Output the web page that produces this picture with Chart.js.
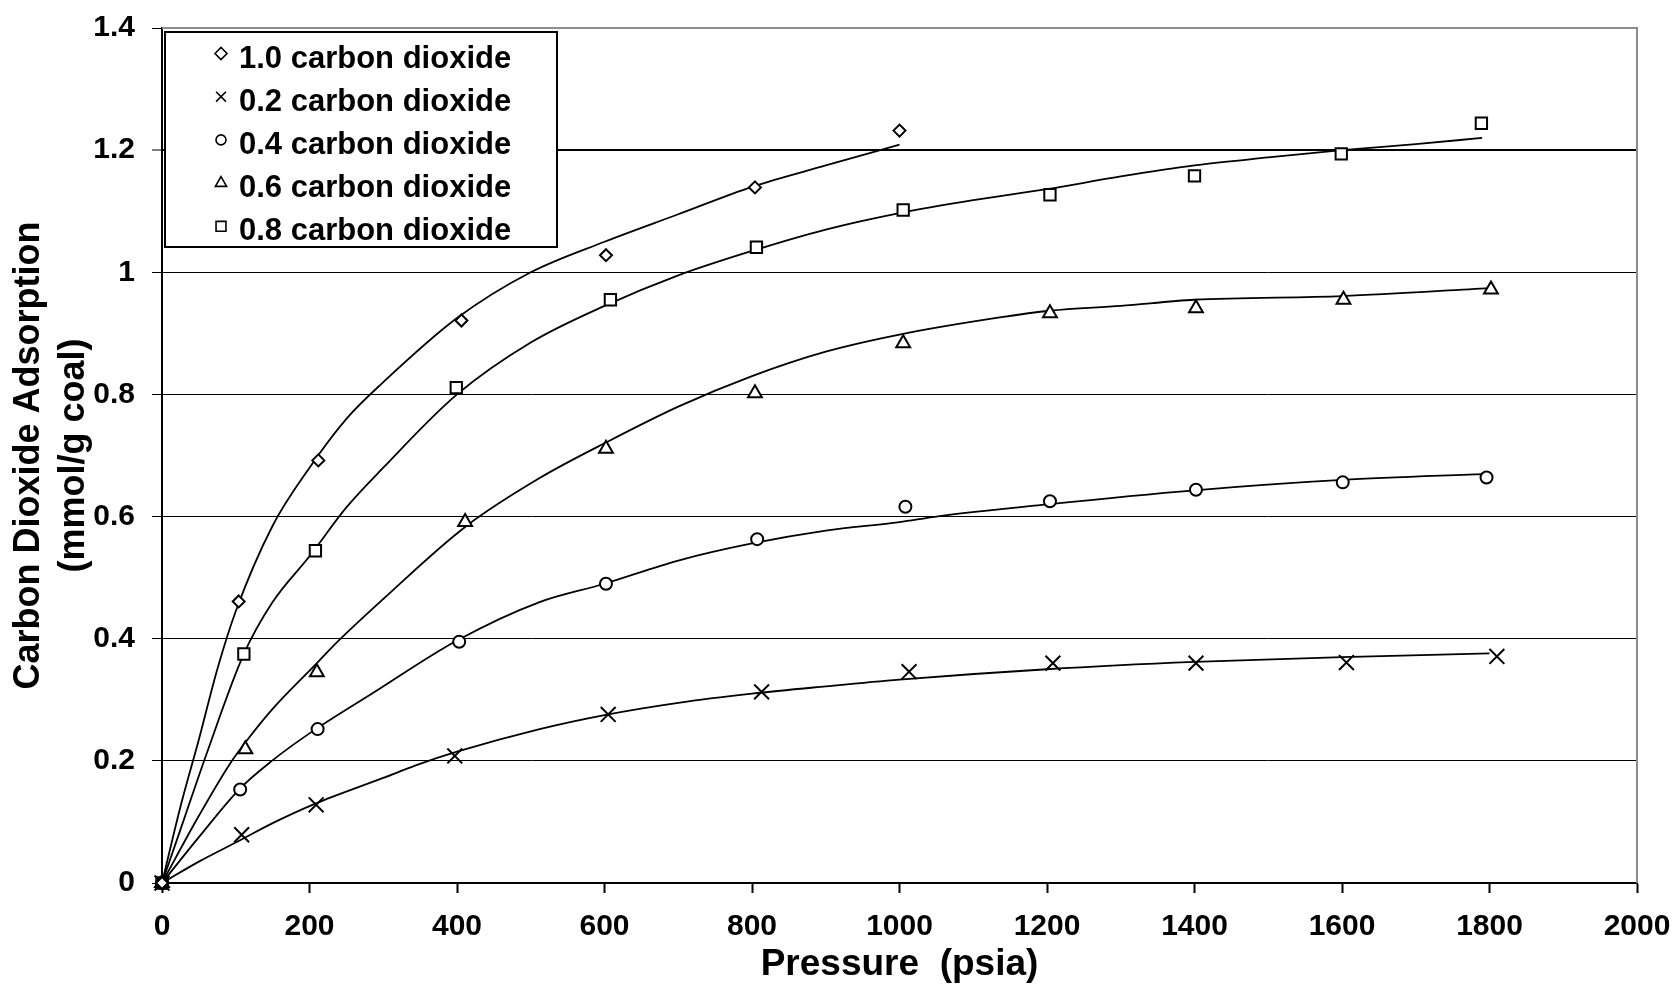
<!DOCTYPE html>
<html>
<head>
<meta charset="utf-8">
<title>Carbon Dioxide Adsorption</title>
<script src="https://cdn.jsdelivr.net/npm/chart.js@4.4.1/dist/chart.umd.min.js"></script>
<style>
    body {
        margin: 0;
        background: #ffffff;
    }
</style>
</head>
<body>
<canvas id="adsorptionChart" width="1680" height="995"></canvas>
<script>

// legend order of the series
const seriesLabels = [
    "1.0 carbon dioxide",
    "0.2 carbon dioxide",
    "0.4 carbon dioxide",
    "0.6 carbon dioxide",
    "0.8 carbon dioxide"
];

const xTickLabels = ["0", "200", "400", "600", "800", "1000", "1200", "1400", "1600", "1800", "2000"];
const yTickLabels = ["0", "0.2", "0.4", "0.6", "0.8", "1", "1.2", "1.4"];

// measured points (psia, mmol/g)
const meas10X = [0, 104, 212, 406, 602, 804, 1000];
const meas10Y = [0, 0.461, 0.692, 0.921, 1.028, 1.139, 1.232];

const meas02X = [0, 108, 209, 397, 605, 813, 1013, 1208, 1402, 1606, 1810];
const meas02Y = [0, 0.079, 0.128, 0.208, 0.276, 0.313, 0.346, 0.360, 0.360, 0.361, 0.371];

const meas04X = [0, 106, 211, 403, 602, 807, 1008, 1204, 1402, 1601, 1796];
const meas04Y = [0, 0.153, 0.252, 0.395, 0.490, 0.563, 0.616, 0.625, 0.644, 0.656, 0.664];

const meas06X = [0, 113, 210, 411, 602, 804, 1005, 1204, 1402, 1602, 1802];
const meas06Y = [0, 0.219, 0.345, 0.591, 0.711, 0.802, 0.884, 0.933, 0.941, 0.955, 0.972];

const meas08X = [0, 111, 208, 399, 608, 806, 1005, 1204, 1400, 1599, 1789];
const meas08Y = [0, 0.375, 0.544, 0.811, 0.955, 1.041, 1.102, 1.127, 1.158, 1.194, 1.244];

// fitted curves
const fit10X = [0, 25, 50, 75, 100, 150, 200, 250, 300, 400, 500, 600, 700, 800, 900, 1000];
const fit10Y = [0, 0.125, 0.235, 0.35, 0.445, 0.585, 0.68, 0.76, 0.82, 0.925, 1.0, 1.05, 1.095, 1.14, 1.175, 1.209];

const fit02X = [0, 50, 106, 150, 208, 300, 345, 400, 512, 600, 700, 800, 900, 1000, 1200, 1400, 1600, 1800];
const fit02Y = [0, 0.035, 0.07, 0.098, 0.13, 0.172, 0.193, 0.215, 0.252, 0.275, 0.295, 0.31, 0.322, 0.333, 0.35, 0.362, 0.37, 0.376];

const fit04X = [0, 50, 106, 149, 200, 286, 400, 512, 600, 700, 800, 900, 1000, 1050, 1200, 1400, 1600, 1800];
const fit04Y = [0, 0.075, 0.155, 0.2, 0.245, 0.311, 0.397, 0.46, 0.49, 0.528, 0.556, 0.577, 0.591, 0.6, 0.62, 0.643, 0.66, 0.67];

const fit06X = [0, 50, 92, 113, 150, 210, 232, 300, 411, 512, 600, 700, 800, 900, 1000, 1136, 1204, 1300, 1400, 1600, 1800];
const fit06Y = [0, 0.11, 0.195, 0.23, 0.285, 0.36, 0.388, 0.465, 0.583, 0.663, 0.72, 0.78, 0.83, 0.87, 0.898, 0.926, 0.937, 0.945, 0.955, 0.961, 0.974];

const fit08X = [0, 30, 60, 111, 150, 200, 250, 300, 400, 500, 600, 700, 800, 900, 1000, 1100, 1200, 1300, 1400, 1500, 1600, 1700, 1790];
const fit08Y = [0, 0.105, 0.21, 0.375, 0.46, 0.535, 0.615, 0.68, 0.80, 0.885, 0.945, 0.995, 1.035, 1.07, 1.097, 1.118, 1.136, 1.157, 1.175, 1.188, 1.2, 1.21, 1.22];


const FONT = "'Liberation Sans', Arial, Helvetica, sans-serif";

function toPoints(xs, ys) {
    return xs.map((x, i) => ({ x: x, y: ys[i] }));
}

function markerSet(label, xs, ys, style, radius) {
    return {
        label: label,
        isMarker: true,
        data: toPoints(xs, ys),
        showLine: false,
        pointStyle: style,
        pointRadius: radius,
        pointHoverRadius: radius,
        pointBorderWidth: 2,
        pointBorderColor: "#000000",
        pointBackgroundColor: "#ffffff",
        clip: false
    };
}

function curveSet(xs, ys) {
    return {
        label: "",
        isMarker: false,
        data: toPoints(xs, ys),
        showLine: true,
        borderColor: "#000000",
        borderWidth: 1.8,
        cubicInterpolationMode: "monotone",
        pointRadius: 0,
        pointHoverRadius: 0
    };
}

// legend drawn as a framed box inside the plot
const legendBox = {
    id: "legendBox",
    afterDraw(chart) {
        const ctx = chart.ctx;
        const sizes = { rectRot: 6, crossRot: 7, circle: 5, triangle: 6.5, rect: 7 };

        ctx.save();
        ctx.fillStyle = "#ffffff";
        ctx.fillRect(165, 32, 392, 215);
        ctx.lineWidth = 2;
        ctx.strokeStyle = "#000000";
        ctx.strokeRect(165, 32, 392, 215);

        const markers = chart.data.datasets.filter(d => d.isMarker);

        markers.forEach((ds, i) => {
            const cy = 53.5 + i * 43.2;

            ctx.strokeStyle = "#000000";
            ctx.fillStyle = "#ffffff";
            ctx.lineWidth = 1.6;
            Chart.helpers.drawPoint(ctx, {
                pointStyle: ds.pointStyle,
                radius: sizes[ds.pointStyle],
                borderWidth: 1.6,
                rotation: 0
            }, 221, cy);

            ctx.fillStyle = "#000000";
            ctx.font = "bold 31px " + FONT;
            ctx.textAlign = "left";
            ctx.textBaseline = "alphabetic";
            ctx.fillText(ds.label, 239, cy + 14);
        });

        ctx.restore();
    }
};

// grey frame on the top and right of the plot area
const plotFrame = {
    id: "plotFrame",
    beforeDatasetsDraw(chart) {
        const a = chart.chartArea;
        const ctx = chart.ctx;
        ctx.save();
        ctx.strokeStyle = "#8c8c8c";
        ctx.lineWidth = 2;
        ctx.beginPath();
        ctx.moveTo(a.left, a.top);
        ctx.lineTo(a.right, a.top);
        ctx.lineTo(a.right, a.bottom);
        ctx.stroke();
        ctx.restore();
    }
};

function createChart() {

    const ctx =
        document
            .getElementById("adsorptionChart");

    new Chart(ctx, {

        type: "scatter",

        data: {
            datasets: [
                markerSet(seriesLabels[0], meas10X, meas10Y, "rectRot", 6),
                markerSet(seriesLabels[1], meas02X, meas02Y, "crossRot", 10.5),
                markerSet(seriesLabels[2], meas04X, meas04Y, "circle", 6),
                markerSet(seriesLabels[3], meas06X, meas06Y, "triangle", 8),
                markerSet(seriesLabels[4], meas08X, meas08Y, "rect", 8),
                curveSet(fit10X, fit10Y),
                curveSet(fit02X, fit02Y),
                curveSet(fit04X, fit04Y),
                curveSet(fit06X, fit06Y),
                curveSet(fit08X, fit08Y)
            ]
        },

        options: {
            responsive: false,
            animation: false,
            layout: {
                padding: { top: 28, right: 43, left: 0, bottom: 0 }
            },
            plugins: {
                legend: { display: false },
                tooltip: { enabled: false }
            },
            scales: {
                x: {
                    type: "linear",
                    min: 0,
                    max: 2000,
                    afterFit: s => {
                        s.height = 112;
                        s.paddingLeft = 0;
                        s.paddingRight = 0;
                    },
                    ticks: {
                        stepSize: 200,
                        autoSkip: false,
                        maxRotation: 0,
                        padding: 16,
                        color: "#000000",
                        font: { family: FONT, size: 30, weight: "bold" },
                        callback: (v, i) => xTickLabels[i]
                    },
                    grid: {
                        drawOnChartArea: false,
                        drawTicks: true,
                        tickLength: 10,
                        tickWidth: 2,
                        tickColor: "#000000"
                    },
                    border: { color: "#000000", width: 2 },
                    title: {
                        display: true,
                        text: "Pressure  (psia)",
                        color: "#000000",
                        font: { family: FONT, size: 37, weight: "bold" },
                        padding: { top: 0, bottom: 8 }
                    }
                },
                y: {
                    min: 0,
                    max: 1.4,
                    afterFit: s => {
                        s.width = 162;
                        s.paddingTop = 0;
                        s.paddingBottom = 0;
                    },
                    ticks: {
                        stepSize: 0.2,
                        autoSkip: false,
                        padding: 17,
                        color: "#000000",
                        font: { family: FONT, size: 30, weight: "bold" },
                        callback: (v, i) => yTickLabels[i]
                    },
                    grid: {
                        color: c => (c.tick && c.tick.value > 1.39) ? "#8c8c8c" : "#000000",
                        lineWidth: c => (c.tick && Math.abs(c.tick.value - 1.2) < 0.01) ? 2 : 1,
                        drawTicks: true,
                        tickLength: 10,
                        tickWidth: 1,
                        tickColor: "#000000"
                    },
                    border: { color: "#000000", width: 2 },
                    title: {
                        display: true,
                        text: ["Carbon Dioxide Adsorption", "(mmol/g coal)"],
                        color: "#000000",
                        font: { family: FONT, size: 36, weight: "bold", lineHeight: 1.26 },
                        padding: { top: 6, bottom: 0 }
                    }
                }
            }
        },

        plugins: [plotFrame, legendBox]
    });
}

createChart();

</script>
</body>
</html>
